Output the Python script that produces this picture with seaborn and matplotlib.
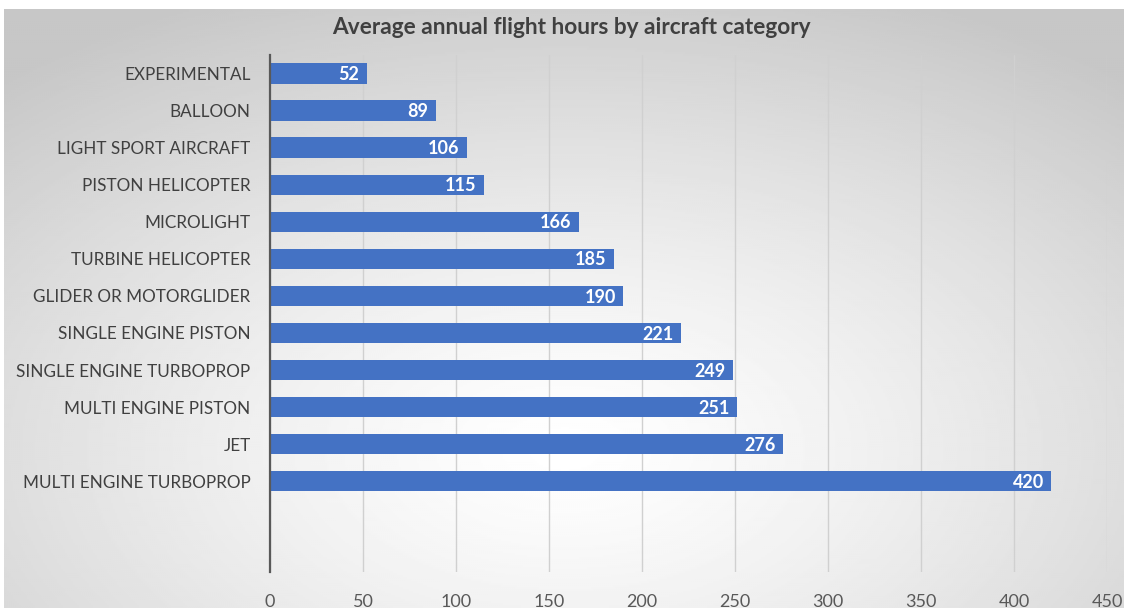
import numpy as np
import pandas as pd
import matplotlib
matplotlib.use("Agg")
import matplotlib.pyplot as plt
import seaborn as sns

categories = [
    "EXPERIMENTAL", "BALLOON", "LIGHT SPORT AIRCRAFT", "PISTON HELICOPTER",
    "MICROLIGHT", "TURBINE HELICOPTER", "GLIDER OR MOTORGLIDER",
    "SINGLE ENGINE PISTON", "SINGLE ENGINE TURBOPROP", "MULTI ENGINE PISTON",
    "JET", "MULTI ENGINE TURBOPROP",
]
hours = [52, 89, 106, 115, 166, 185, 190, 221, 249, 251, 276, 420]
x_ticks = [0, 50, 100, 150, 200, 250, 300, 350, 400, 450]

df = pd.DataFrame({"category": categories, "hours": hours})

sns.set_theme(style="white")
plt.rcParams["font.family"] = ["Lato", "DejaVu Sans"]

W, H = 1124, 608
fig = plt.figure(figsize=(W / 100, H / 100), dpi=100)
fig.patch.set_facecolor("white")

# soft radial gradient backdrop
bg = fig.add_axes([4 / W, 0, 1 - 4 / W, 1 - 9 / H], zorder=-5)
yy, xx = np.mgrid[0:300, 0:560]
cx, cy = 280, 220
r = np.sqrt(((xx - cx) / 560) ** 2 + ((yy - cy) / 330) ** 2)
shade = 1.0 - 0.22 * np.clip(r / 0.75, 0, 1) ** 1.3
bg.imshow(shade, cmap="gray", vmin=0, vmax=1, aspect="auto",
          interpolation="bilinear", extent=[0, 1, 0, 1], origin="upper")
bg.set_axis_off()

ax = fig.add_axes([270 / W, 1 - 572 / H, (1107 - 270) / W, (572 - 55) / H])
ax.set_facecolor("none")

sns.barplot(data=df, y="category", x="hours", orient="h", color="#4472C4",
            saturation=1, width=0.55, linewidth=0, ax=ax, zorder=3)

for i, v in enumerate(hours):
    ax.text(v - 4, i + 0.03, f"{v}", ha="right", va="center", color="white",
            fontsize=13, fontweight="bold", zorder=4)

ax.set_xlim(0, 450)
ax.set_ylim(13.45, -0.5)
ax.set_xticks(x_ticks)
ax.set_xticklabels([str(t) for t in x_ticks], color="#595959", fontsize=13)
ax.tick_params(axis="x", length=0, pad=16)
ax.tick_params(axis="y", length=0, pad=14, labelsize=12.3, labelcolor="#404040")
ax.xaxis.grid(True, color="#d0d0d0", linewidth=1, zorder=0)
ax.set_axisbelow(True)
for s in ["top", "right", "bottom"]:
    ax.spines[s].set_visible(False)
ax.spines["left"].set_color("#595959")
ax.spines["left"].set_linewidth(1.6)
ax.spines["left"].set_zorder(5)
ax.set_xlabel("")
ax.set_ylabel("")

fig.text(571 / W, 1 - 27 / H, "Average annual flight hours by aircraft category",
         ha="center", va="center", fontsize=16.3, fontweight="bold", color="#404040")

fig.savefig("out.png", dpi=100)
